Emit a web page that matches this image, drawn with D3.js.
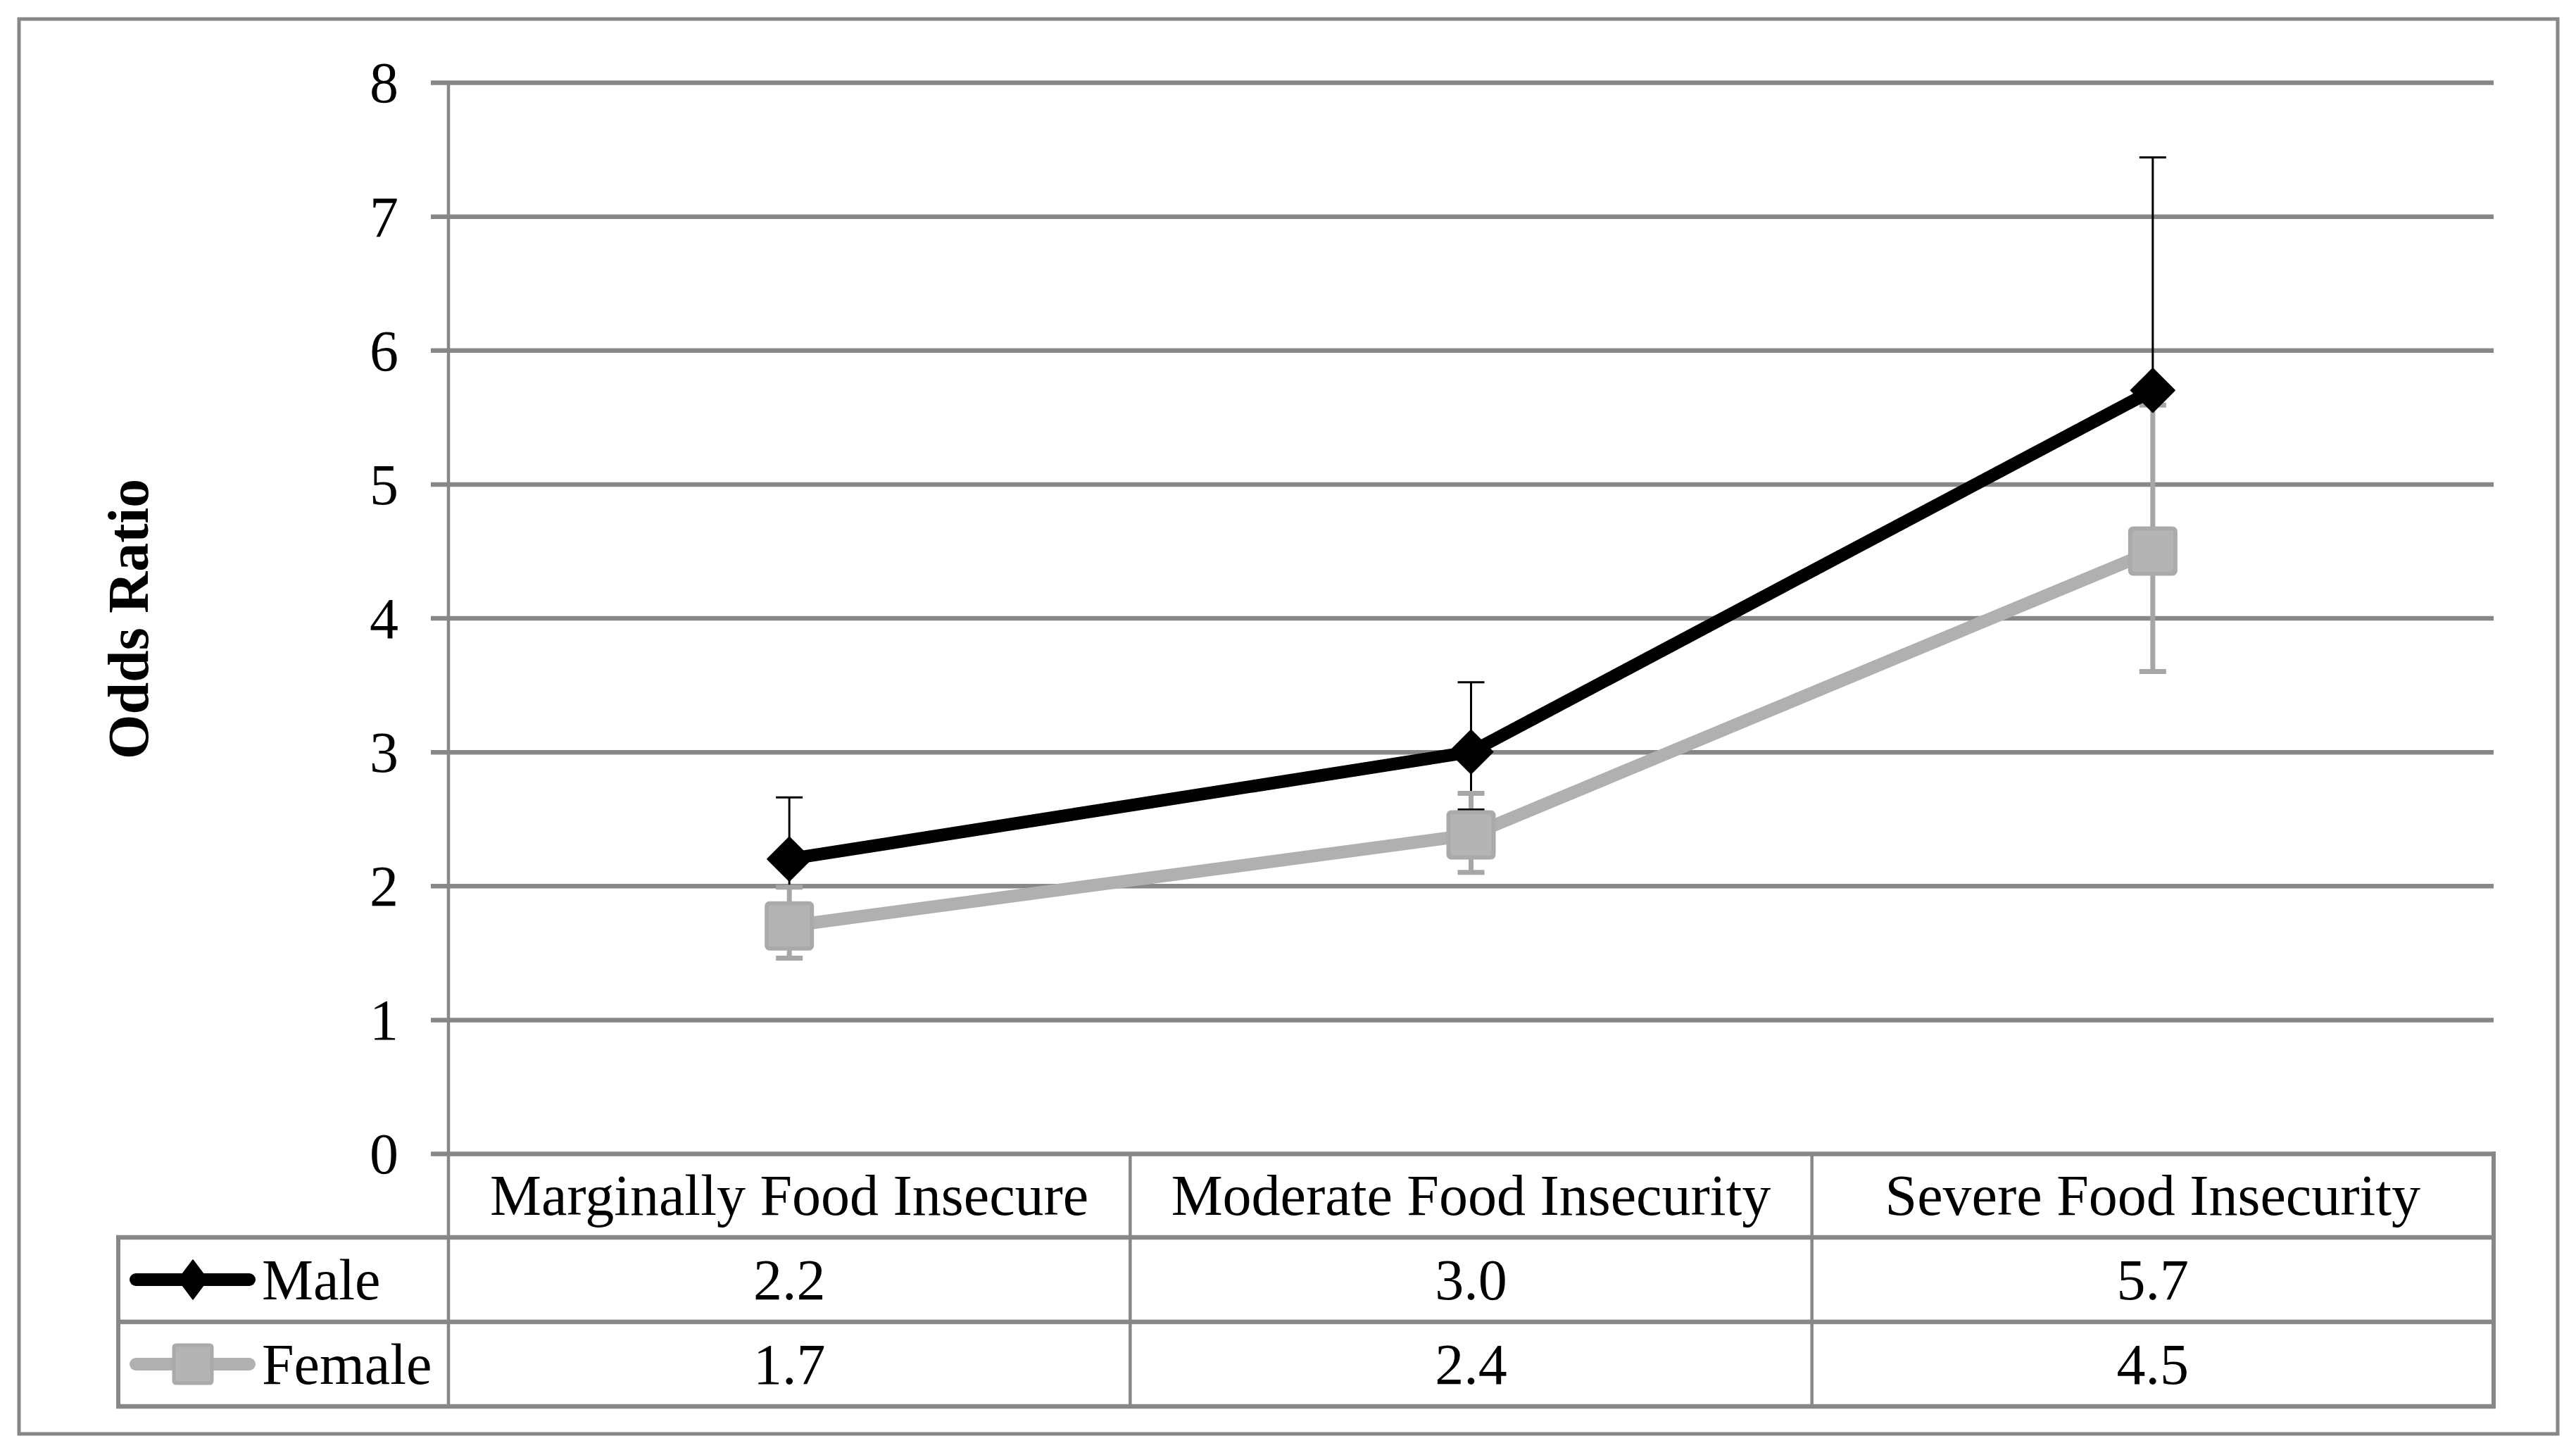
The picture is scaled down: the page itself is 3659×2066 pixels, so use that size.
<!DOCTYPE html>
<html>
<head>
<meta charset="utf-8">
<script src="https://cdn.jsdelivr.net/npm/d3@7"></script>
<style>
  html, body { margin: 0; padding: 0; background: #fff; }
  svg { display: block; }
</style>
</head>
<body>
<svg id="chart" width="3659" height="2066"></svg>
<script>
// ---- data ----
const categories = ["Marginally Food Insecure", "Moderate Food Insecurity", "Severe Food Insecurity"];
const seriesNames = ["Male", "Female"];
const maleValues = [2.2, 3.0, 5.7];
const femaleValues = [1.7, 2.38, 4.5];
const maleUpper = [2.66, 3.52, 7.44];
const maleLower = [1.82, 2.57, 4.37];
const femaleUpper = [1.99, 2.69, 5.59];
const femaleLower = [1.46, 2.10, 3.60];
const maleLabels = ["2.2", "3.0", "5.7"];
const femaleLabels = ["1.7", "2.4", "4.5"];
const yTicks = [0, 1, 2, 3, 4, 5, 6, 7, 8];
const yTitle = "Odds Ratio";

// ---- layout ----
const W = 3659, H = 2066;
const plotL = 637, plotR = 3542, plotT = 117, plotB = 1638;
const row1B = 1757, row2B = 1877, row3B = 1997;
const tableL = 168;
const font = "'Liberation Serif', 'Times New Roman', serif";
const fs = 82;
const gridCol = "#878787";
const grayLine = "#b0b0b0";
const grayErr = "#a6a6a6";

const svg = d3.select("#chart");

const x = d3.scaleBand().domain(categories).range([plotL, plotR]).padding(0);
const y = d3.scaleLinear().domain([0, 8]).range([plotB, plotT]);
const cx = c => x(c) + x.bandwidth() / 2;

// outer frame
svg.append("rect").attr("x", 27).attr("y", 27).attr("width", 3633 - 27).attr("height", 2036 - 27)
  .attr("fill", "#fff").attr("stroke", gridCol).attr("stroke-width", 5);

// y axis with gridlines
const yAxis = d3.axisLeft(y).tickValues(yTicks).tickFormat(d3.format("d"))
  .tickSize(-(plotR - (plotL - 25))).tickPadding(46);
const gy = svg.append("g").attr("transform", `translate(${plotL - 25},0)`).call(yAxis);
gy.select(".domain").remove();
gy.selectAll(".tick line").attr("stroke", gridCol).attr("stroke-width", 6.5);
gy.selectAll(".tick text").attr("font-family", font).attr("font-size", fs).attr("fill", "#000")
  .attr("dy", "0.34em");

// vertical axis line (continues through table)
svg.append("line").attr("x1", plotL).attr("x2", plotL).attr("y1", plotT).attr("y2", row3B)
  .attr("stroke", gridCol).attr("stroke-width", 4.5);

// y title
svg.append("text").attr("transform", `translate(210,879) rotate(-90)`)
  .attr("text-anchor", "middle").attr("font-family", font).attr("font-weight", "bold")
  .attr("font-size", fs).text(yTitle);

// ---- data table ----
const tbl = svg.append("g");
[[tableL, row1B], [tableL, row2B], [tableL, row3B]].forEach(([x0, yy]) => {
  tbl.append("line").attr("x1", x0 - 3).attr("x2", plotR + 3).attr("y1", yy).attr("y2", yy)
    .attr("stroke", gridCol).attr("stroke-width", 6.5);
});
tbl.append("line").attr("x1", tableL).attr("x2", tableL).attr("y1", row1B).attr("y2", row3B)
  .attr("stroke", gridCol).attr("stroke-width", 6);
categories.forEach((c, i) => {
  if (i > 0) {
    tbl.append("line").attr("x1", x(c)).attr("x2", x(c)).attr("y1", plotB).attr("y2", row3B)
      .attr("stroke", gridCol).attr("stroke-width", 4.5);
  }
});
tbl.append("line").attr("x1", plotR).attr("x2", plotR).attr("y1", plotB - 3).attr("y2", row3B + 3)
  .attr("stroke", gridCol).attr("stroke-width", 6);

tbl.selectAll("text.cat").data(categories).enter().append("text")
  .attr("x", d => cx(d)).attr("y", (plotB + row1B) / 2).attr("dy", "0.34em")
  .attr("text-anchor", "middle").attr("font-family", font).attr("font-size", fs).text(d => d);
tbl.selectAll("text.m").data(maleLabels).enter().append("text")
  .attr("x", (d, i) => cx(categories[i])).attr("y", (row1B + row2B) / 2).attr("dy", "0.34em")
  .attr("text-anchor", "middle").attr("font-family", font).attr("font-size", fs).text(d => d);
tbl.selectAll("text.f").data(femaleLabels).enter().append("text")
  .attr("x", (d, i) => cx(categories[i])).attr("y", (row2B + row3B) / 2).attr("dy", "0.34em")
  .attr("text-anchor", "middle").attr("font-family", font).attr("font-size", fs).text(d => d);

const legCx = 274;
function legendKey(yc, color, marker) {
  tbl.append("line").attr("x1", 193).attr("x2", 354).attr("y1", yc).attr("y2", yc)
    .attr("stroke", color).attr("stroke-width", 18).attr("stroke-linecap", "round");
  if (marker === "diamond") {
    tbl.append("path").attr("d", `M${legCx},${yc - 28}L${legCx + 21},${yc}L${legCx},${yc + 28}L${legCx - 21},${yc}Z`)
      .attr("fill", "#000").attr("stroke", "#000").attr("stroke-width", 1.5).attr("stroke-linejoin", "round");
  } else {
    tbl.append("rect").attr("x", legCx - 27).attr("y", yc - 27).attr("width", 54).attr("height", 54)
      .attr("rx", 3).attr("fill", "#b4b4b4").attr("stroke", "#aaaaaa").attr("stroke-width", 5);
  }
}
const maleRowC = (row1B + row2B) / 2, femRowC = (row2B + row3B) / 2;
legendKey(maleRowC, "#000", "diamond");
legendKey(femRowC, grayLine, "square");
tbl.append("text").attr("x", 372).attr("y", maleRowC).attr("dy", "0.34em")
  .attr("font-family", font).attr("font-size", fs).text(seriesNames[0]);
tbl.append("text").attr("x", 372).attr("y", femRowC).attr("dy", "0.34em")
  .attr("font-family", font).attr("font-size", fs).text(seriesNames[1]);

// ---- error bars ----
const capW = 38;
const eb = svg.append("g");
categories.forEach((c, i) => {
  eb.append("line").attr("x1", cx(c)).attr("x2", cx(c)).attr("y1", y(maleLower[i])).attr("y2", y(maleUpper[i]))
    .attr("stroke", "#000").attr("stroke-width", 3);
});
categories.forEach((c, i) => {
  eb.append("line").attr("x1", cx(c)).attr("x2", cx(c)).attr("y1", y(femaleLower[i])).attr("y2", y(femaleUpper[i]))
    .attr("stroke", grayErr).attr("stroke-width", 7);
  [femaleLower[i], femaleUpper[i]].forEach(v => {
    eb.append("line").attr("x1", cx(c) - capW / 2).attr("x2", cx(c) + capW / 2).attr("y1", y(v)).attr("y2", y(v))
      .attr("stroke", grayErr).attr("stroke-width", 7);
  });
});
categories.forEach((c, i) => {
  [maleLower[i], maleUpper[i]].forEach(v => {
    eb.append("line").attr("x1", cx(c) - capW / 2).attr("x2", cx(c) + capW / 2).attr("y1", y(v)).attr("y2", y(v))
      .attr("stroke", "#000").attr("stroke-width", 3);
  });
});

// ---- lines ----
const line = d3.line().x((d, i) => cx(categories[i])).y(d => y(d));
svg.append("path").datum(maleValues).attr("d", line).attr("fill", "none")
  .attr("stroke", "#000").attr("stroke-width", 18).attr("stroke-linejoin", "round").attr("stroke-linecap", "round");
svg.append("path").datum(femaleValues).attr("d", line).attr("fill", "none")
  .attr("stroke", grayLine).attr("stroke-width", 18).attr("stroke-linejoin", "round").attr("stroke-linecap", "round");

// ---- markers ----
const dh = 31;
svg.selectAll("path.dia").data(maleValues).enter().append("path")
  .attr("d", (d, i) => {
    const px = cx(categories[i]), py = y(d);
    return `M${px},${py - dh}L${px + dh},${py}L${px},${py + dh}L${px - dh},${py}Z`;
  })
  .attr("fill", "#000").attr("stroke", "#000").attr("stroke-width", 2).attr("stroke-linejoin", "round");
const sq = 64;
svg.selectAll("rect.sq").data(femaleValues).enter().append("rect")
  .attr("x", (d, i) => cx(categories[i]) - sq / 2).attr("y", d => y(d) - sq / 2)
  .attr("width", sq).attr("height", sq).attr("rx", 4)
  .attr("fill", "#b4b4b4").attr("stroke", "#aaaaaa").attr("stroke-width", 6);
</script>
</body>
</html>
